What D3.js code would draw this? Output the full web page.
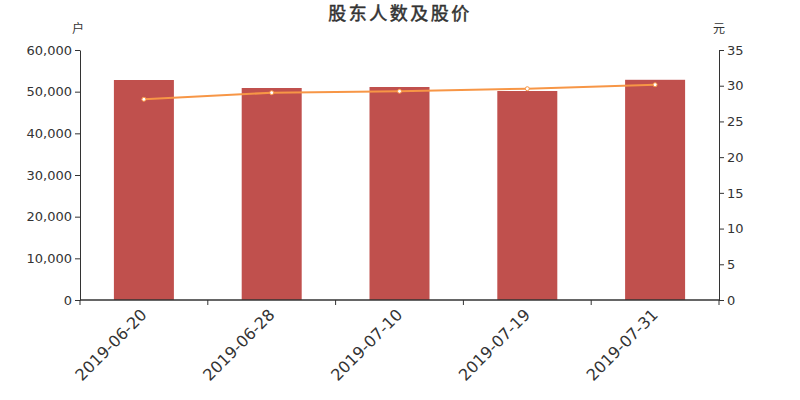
<!DOCTYPE html>
<html><head><meta charset="utf-8">
<script src="https://cdn.jsdelivr.net/npm/d3@7"></script>
<style>body{margin:0;background:#fff;} text{font-family:"DejaVu Sans","Noto Sans CJK SC",sans-serif;}</style>
</head><body><svg id="c" width="800" height="400"></svg>
<script>
const categories = ["2019-06-20","2019-06-28","2019-07-10","2019-07-19","2019-07-31"];
const holders = [52800, 50880, 51120, 50160, 52850];
const prices = [28.1, 29.02, 29.22, 29.58, 30.14];
const leftTicks = [0,10000,20000,30000,40000,50000,60000];
const rightTicks = [0,5,10,15,20,25,30,35];

const svg = d3.select("#c");
const L = 80, R = 719, T = 50, B = 300;
const x = d3.scaleBand().domain(categories).range([L, R]).paddingInner(0).paddingOuter(0);
const yL = d3.scaleLinear().domain([0,60000]).range([B, T]);
const yR = d3.scaleLinear().domain([0,35]).range([B, T]);
const col = "#333";

svg.append("text").attr("x",400).attr("y",20).attr("text-anchor","middle")
  .attr("font-size",18).attr("letter-spacing",2.5).attr("font-weight","normal")
  .attr("stroke",col).attr("stroke-width",0.5)
  .attr("fill",col).text("股东人数及股价");
svg.append("text").attr("x",78).attr("y",33).attr("text-anchor","middle").attr("font-size",12).attr("fill",col).text("户");
svg.append("text").attr("x",719).attr("y",33).attr("text-anchor","middle").attr("font-size",12).attr("fill",col).text("元");

// bars
const bw = 60;
svg.selectAll("rect.bar").data(holders).join("rect").attr("class","bar")
  .attr("x",(d,i)=>x(categories[i])+x.bandwidth()/2-bw/2)
  .attr("width",bw)
  .attr("y",d=>yL(d)).attr("height",d=>B-yL(d))
  .attr("fill","#c0504d");

// left axis
const gl = svg.append("g").attr("transform",`translate(${L},0)`)
  .call(d3.axisLeft(yL).tickValues(leftTicks).tickSize(5).tickSizeOuter(0).tickFormat(d3.format(",")));
gl.selectAll("text").attr("font-size",13).attr("fill",col).attr("font-family","DejaVu Sans");
gl.selectAll("line,path").attr("stroke",col);

// right axis
const gr = svg.append("g").attr("transform",`translate(${R},0)`)
  .call(d3.axisRight(yR).tickValues(rightTicks).tickSize(5).tickSizeOuter(0));
gr.selectAll("text").attr("font-size",13).attr("fill",col).attr("font-family","DejaVu Sans");
gr.selectAll("line,path").attr("stroke",col);

// bottom axis
const gb = svg.append("g").attr("transform",`translate(0,${B})`);
gb.append("line").attr("x1",L).attr("x2",R).attr("stroke",col).attr("stroke-width",1.5);
const bounds = categories.map(c=>x(c)).concat([R]);
gb.selectAll("line.t").data(bounds).join("line").attr("class","t")
  .attr("x1",d=>d).attr("x2",d=>d).attr("y1",0).attr("y2",5).attr("stroke",col);
gb.selectAll("text.lab").data(categories).join("text").attr("class","lab")
  .attr("transform",d=>`translate(${x(d)+x.bandwidth()/2-4},${8}) rotate(-45)`)
  .attr("text-anchor","end").attr("dy","0.7em").attr("font-size",16).attr("fill",col).text(d=>d);

// line
const line = d3.line().x((d,i)=>x(categories[i])+x.bandwidth()/2).y(d=>yR(d));
svg.append("path").datum(prices).attr("d",line).attr("fill","none")
  .attr("stroke","#f79646").attr("stroke-width",2);
svg.selectAll("circle.pt").data(prices).join("circle").attr("class","pt")
  .attr("cx",(d,i)=>x(categories[i])+x.bandwidth()/2).attr("cy",d=>yR(d)).attr("r",2)
  .attr("fill","#fff").attr("stroke","#f79646").attr("stroke-width",1);
</script></body></html>
